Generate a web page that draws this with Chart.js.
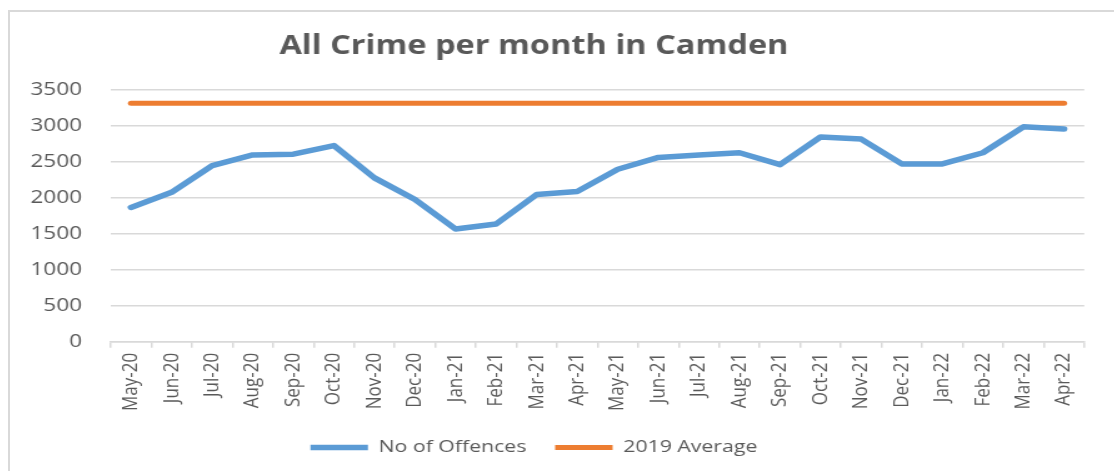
<!DOCTYPE html>
<html>
<head>
<meta charset="utf-8">
<script src="https://cdn.jsdelivr.net/npm/chart.js@4.4.1/dist/chart.umd.min.js"></script>
<style>
  html, body { margin: 0; padding: 0; background: #fff; overflow: hidden; }
  body { width: 1114px; height: 471px; position: relative; }
  #frame { position: absolute; left: 8px; top: 10px; width: 1200px; height: 600px; border: 2px solid #d9d9d9; }
  /* the source image is stretched sideways, so the canvas is too */
  #crime-chart { position: absolute; left: -28px; top: 0; transform: scaleX(1.25); transform-origin: 0 0; }
</style>
</head>
<body>
<div id="frame"></div>
<canvas id="crime-chart" width="899" height="471"></canvas>
<script>
const months = ['May-20', 'Jun-20', 'Jul-20', 'Aug-20', 'Sep-20', 'Oct-20', 'Nov-20', 'Dec-20',
  'Jan-21', 'Feb-21', 'Mar-21', 'Apr-21', 'May-21', 'Jun-21', 'Jul-21', 'Aug-21',
  'Sep-21', 'Oct-21', 'Nov-21', 'Dec-21', 'Jan-22', 'Feb-22', 'Mar-22', 'Apr-22'];

const offences = [1870, 2080, 2450, 2600, 2610, 2730, 2280, 1980,
  1570, 1640, 2050, 2090, 2400, 2565, 2600, 2630,
  2465, 2850, 2820, 2475, 2475, 2630, 2990, 2960];

const average2019 = [3320, 3320, 3320, 3320, 3320, 3320, 3320, 3320,
  3320, 3320, 3320, 3320, 3320, 3320, 3320, 3320,
  3320, 3320, 3320, 3320, 3320, 3320, 3320, 3320];

const yTicks = { min: 0, max: 3500, step: 500 };

const textColor = '#595959';
const gridColor = '#d9d9d9';

function main() {
  const canvas = document.querySelector('#crime-chart');

  new Chart(canvas.getContext('2d'), {
    type: 'line',
    data: {
      labels: months,
      datasets: [
        {
          label: 'No of Offences',
          data: offences,
          borderColor: '#5b9bd5',
          backgroundColor: '#5b9bd5',
          borderWidth: 5.5,
          borderCapStyle: 'round',
          borderJoinStyle: 'round',
          pointRadius: 0,
          tension: 0
        },
        {
          label: '2019 Average',
          data: average2019,
          borderColor: '#ed7d31',
          backgroundColor: '#ed7d31',
          borderWidth: 5,
          borderCapStyle: 'round',
          borderJoinStyle: 'round',
          pointRadius: 0,
          tension: 0
        }
      ]
    },
    options: {
      responsive: false,
      animation: false,
      devicePixelRatio: 1,
      layout: { padding: { left: 0, right: 0, top: 0, bottom: 5 } },
      plugins: {
        title: {
          display: true,
          text: 'All Crime per month in Camden',
          color: textColor,
          font: { family: 'Open Sans', size: 26, weight: 'bold' },
          padding: { top: 31, bottom: 28 }
        },
        legend: {
          position: 'bottom',
          labels: {
            color: textColor,
            font: { family: 'Open Sans', size: 17 },
            usePointStyle: true,
            pointStyle: 'line',
            pointStyleWidth: 46,
            boxHeight: 17,
            padding: 23
          }
        },
        tooltip: { enabled: false }
      },
      scales: {
        x: {
          offset: true,
          grid: {
            offset: true,
            drawOnChartArea: false,
            drawTicks: true,
            tickLength: 6,
            color: gridColor,
            lineWidth: 1.5
          },
          border: { color: gridColor, width: 1.5 },
          ticks: {
            color: textColor,
            font: { family: 'Open Sans', size: 17 },
            minRotation: 90,
            maxRotation: 90,
            autoSkip: false,
            padding: 5
          }
        },
        y: {
          min: yTicks.min,
          max: yTicks.max,
          afterFit: (scale) => { scale.width = 111; },
          grid: {
            color: gridColor,
            lineWidth: 1.5,
            drawTicks: false
          },
          border: { display: false },
          ticks: {
            stepSize: yTicks.step,
            color: textColor,
            font: { family: 'Open Sans', size: 18 },
            padding: 23,
            callback: (value) => String(value)
          }
        }
      }
    }
  });
}

main()
</script>
</body>
</html>
